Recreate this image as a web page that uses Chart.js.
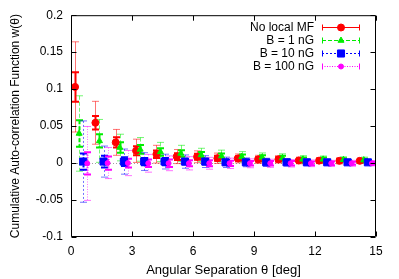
<!DOCTYPE html>
<html>
<head>
<meta charset="utf-8">
<script src="https://cdn.jsdelivr.net/npm/chart.js@4.4.1/dist/chart.umd.min.js"></script>
<style>
  html, body { margin: 0; padding: 0; background: #fff; }
  #wrap { width: 399px; height: 279px; }
</style>
</head>
<body>
<div id="wrap"><canvas id="acf" width="399" height="279"></canvas></div>
<script>
// ── data ─────────────────────────────────────────────────────────────────────
const LABELS = ['No local MF', 'B = 1 nG', 'B = 10 nG', 'B = 100 nG'];

const RED_X = [0.2, 1.2, 2.2, 3.2, 4.2, 5.2, 6.2, 7.2, 8.2, 9.2, 10.2, 11.2, 12.2, 13.2, 14.2];
const RED_W = [0.103, 0.0545, 0.028, 0.0166, 0.012, 0.0088, 0.0085, 0.0065, 0.0063, 0.005, 0.005, 0.0035, 0.0033, 0.003, 0.003];
const RED_ERR_IN  = [0.020, 0.009, 0.0068, 0.006, 0.005, 0.0045, 0.004, 0.0035, 0.003, 0.003, 0.003, 0.0025, 0.0025, 0.002, 0.002];
const RED_ERR_OUT = [0.061, 0.029, 0.0175, 0.0157, 0.012, 0.0095, 0.008, 0.007, 0.006, 0.0055, 0.005, 0.0045, 0.004, 0.004, 0.0035];

const GREEN_X = [0.4, 1.4, 2.4, 3.4, 4.4, 5.4, 6.4, 7.4, 8.4, 9.4, 10.4, 11.4, 12.4, 13.4, 14.4];
const GREEN_W = [0.040, 0.030, 0.021, 0.0185, 0.015, 0.013, 0.011, 0.0095, 0.0085, 0.0077, 0.007, 0.005, 0.005, 0.0045, 0.004];
const GREEN_ERR_IN  = [0.018, 0.009, 0.007, 0.006, 0.005, 0.0045, 0.004, 0.0035, 0.003, 0.003, 0.003, 0.0025, 0.0025, 0.002, 0.002];
const GREEN_ERR_OUT = [0.051, 0.029, 0.018, 0.016, 0.013, 0.011, 0.009, 0.008, 0.007, 0.006, 0.0055, 0.005, 0.0045, 0.004, 0.004];

const BLUE_X = [0.6, 1.6, 2.6, 3.6, 4.6, 5.6, 6.6, 7.6, 8.6, 9.6, 10.6, 11.6, 12.6, 13.6, 14.6];
const BLUE_W = [0.002, 0.002, 0.002, 0.002, 0.002, 0.002, 0.002, 0.001, 0.001, 0.001, 0.001, 0.001, 0.001, 0.001, 0.001];
const BLUE_ERR_IN  = [0.011, 0.008, 0.006, 0.005, 0.005, 0.004, 0.004, 0.0035, 0.003, 0.003, 0.003, 0.0025, 0.0025, 0.002, 0.002];
const BLUE_ERR_OUT = [0.055, 0.021, 0.017, 0.012, 0.010, 0.009, 0.008, 0.007, 0.006, 0.0055, 0.005, 0.0045, 0.004, 0.004, 0.0035];

const MAG_X = [0.8, 1.8, 2.8, 3.8, 4.8, 5.8, 6.8, 7.8, 8.8, 9.8, 10.8, 11.8, 12.8, 13.8, 14.8];
const MAG_W = [-0.0005, 0, 0, -0.0003, -0.0003, -0.0003, -0.0003, -0.0003, -0.0003, -0.0003, -0.0003, -0.0003, -0.0003, -0.0003, -0.0003];
const MAG_ERR_IN  = [0.015, 0.009, 0.006, 0.005, 0.005, 0.004, 0.004, 0.0035, 0.003, 0.003, 0.003, 0.0025, 0.0025, 0.002, 0.002];
const MAG_ERR_OUT = [0.050, 0.021, 0.017, 0.012, 0.010, 0.009, 0.008, 0.007, 0.006, 0.0055, 0.005, 0.0045, 0.004, 0.004, 0.0035];

const X_TICKS = [0, 3, 6, 9, 12, 15];
const Y_TICKS = [-0.1, -0.05, 0, 0.05, 0.1, 0.15, 0.2];

// ── helpers ──────────────────────────────────────────────────────────────────
const FONT = "'Liberation Sans', Arial, Helvetica, sans-serif";

function points(xs, ws, ein, eout) {
  return xs.map((x, i) => ({ x, y: ws[i], ei: ein[i], eo: eout[i] }));
}

function series(label, data, color, light, style, radius, dash) {
  return {
    label, data,
    pointStyle: style,
    pointRadius: radius,
    pointHoverRadius: radius,
    backgroundColor: color,
    borderColor: color,
    borderWidth: 1,
    showLine: false,
    barColor: color,
    barLight: light,
    barDash: dash,
  };
}

function drawBar(ctx, px, yTop, yBot, color, width, dash) {
  const cap = 3.5;
  ctx.strokeStyle = color;
  ctx.lineWidth = width;
  ctx.setLineDash(dash);
  ctx.beginPath();
  ctx.moveTo(px, yTop); ctx.lineTo(px, yBot);
  ctx.stroke();
  ctx.setLineDash([]);
  ctx.beginPath();
  ctx.moveTo(px - cap, yTop); ctx.lineTo(px + cap, yTop);
  ctx.moveTo(px - cap, yBot); ctx.lineTo(px + cap, yBot);
  ctx.stroke();
}

// ── plugin: zero line, error bars, frame with inward ticks, gnuplot key ─────
const gnuplotLook = {
  id: 'gnuplotLook',
  beforeDatasetsDraw(chart) {
    const { ctx, chartArea: a, scales: { x, y } } = chart;
    ctx.save();
    ctx.beginPath();
    ctx.rect(a.left, a.top, a.right - a.left, a.bottom - a.top);
    ctx.clip();

    // dotted zero axis
    const y0 = Math.round(y.getPixelForValue(0)) + 0.5;
    ctx.strokeStyle = '#a0a0a0';
    ctx.lineWidth = 1;
    ctx.setLineDash([1, 2]);
    ctx.beginPath();
    ctx.moveTo(a.left, y0); ctx.lineTo(a.right, y0);
    ctx.stroke();

    chart.data.datasets.forEach(ds => {
      ds.data.forEach(p => {
        const px = Math.round(x.getPixelForValue(p.x)) + 0.5;
        drawBar(ctx, px, y.getPixelForValue(p.y + p.eo), y.getPixelForValue(p.y - p.eo), ds.barLight, 1, ds.barDash);
        drawBar(ctx, px, y.getPixelForValue(p.y + p.ei), y.getPixelForValue(p.y - p.ei), ds.barColor, 2, ds.barDash);
      });
    });
    ctx.restore();
  },
  afterDraw(chart) {
    const { ctx, chartArea: a, scales: { x, y } } = chart;
    ctx.save();
    ctx.strokeStyle = '#000';
    ctx.lineWidth = 1;
    ctx.setLineDash([]);
    const L = a.left + 0.5, R = a.right - 0.5, T = a.top + 0.5, B = a.bottom - 0.5;
    ctx.beginPath();
    ctx.rect(L, T, R - L, B - T);
    X_TICKS.forEach(v => {
      const px = Math.round(x.getPixelForValue(v)) + 0.5;
      ctx.moveTo(px, B); ctx.lineTo(px, B - 5);
      ctx.moveTo(px, T); ctx.lineTo(px, T + 5);
    });
    Y_TICKS.forEach(v => {
      const py = Math.round(y.getPixelForValue(v)) + 0.5;
      ctx.moveTo(L, py); ctx.lineTo(L + 5, py);
      ctx.moveTo(R, py); ctx.lineTo(R - 5, py);
    });
    ctx.stroke();

    // key, top right
    const lineEnd = a.right - 16, lineStart = lineEnd - 38, textRight = lineStart - 8;
    ctx.font = '12px ' + FONT;
    ctx.textAlign = 'right';
    ctx.textBaseline = 'middle';
    chart.data.datasets.forEach((ds, i) => {
      const ty = Math.round(a.top + 12 + 13 * i) + 0.5;
      ctx.fillStyle = '#000';
      ctx.fillText(ds.label, textRight, ty);
      ctx.strokeStyle = ds.barColor;
      ctx.lineWidth = 1;
      ctx.setLineDash(ds.barDash);
      ctx.beginPath();
      ctx.moveTo(lineStart, ty); ctx.lineTo(lineEnd, ty);
      ctx.stroke();
      ctx.setLineDash([]);
      ctx.beginPath();
      ctx.moveTo(lineStart + 0.5, ty - 3); ctx.lineTo(lineStart + 0.5, ty + 3);
      ctx.moveTo(lineEnd - 0.5, ty - 3); ctx.lineTo(lineEnd - 0.5, ty + 3);
      ctx.stroke();
      ctx.fillStyle = ds.barColor;
      Chart.helpers.drawPoint(ctx, { pointStyle: ds.pointStyle, radius: ds.pointRadius, borderWidth: 1, rotation: 0 },
        (lineStart + lineEnd) / 2, ty);
    });
    ctx.restore();
  },
};

// ── chart ────────────────────────────────────────────────────────────────────
const datasets = [
  series(LABELS[0], points(RED_X, RED_W, RED_ERR_IN, RED_ERR_OUT), '#ff0000', 'rgba(255,0,0,0.55)', 'circle', 3.5, []),
  series(LABELS[1], points(GREEN_X, GREEN_W, GREEN_ERR_IN, GREEN_ERR_OUT), '#00ee00', 'rgba(0,238,0,0.55)', 'triangle', 3.5, [4, 2]),
  series(LABELS[2], points(BLUE_X, BLUE_W, BLUE_ERR_IN, BLUE_ERR_OUT), '#0000ff', 'rgba(0,0,255,0.55)', 'rect', 5, [2, 2]),
  series(LABELS[3], points(MAG_X, MAG_W, MAG_ERR_IN, MAG_ERR_OUT), '#ff00ff', 'rgba(255,0,255,0.55)', 'circle', 2.5, [1, 1.5]),
];
datasets.forEach((d, i) => { d.order = datasets.length - i; });

new Chart(document.getElementById('acf'), {
  type: 'scatter',
  data: { datasets },
  options: {
    responsive: false,
    devicePixelRatio: 1,
    animation: false,
    layout: { padding: { top: 15, right: 23, left: 0, bottom: 0 } },
    plugins: { legend: { display: false }, tooltip: { enabled: false } },
    scales: {
      x: {
        type: 'linear',
        min: 0, max: 15,
        afterBuildTicks: s => { s.ticks = X_TICKS.map(v => ({ value: v })); },
        afterFit: s => { s.height = 42; },
        grid: { display: false, drawTicks: false },
        border: { display: false },
        ticks: { color: '#000', padding: 7, maxRotation: 0, font: { family: FONT, size: 12 } },
        title: {
          display: true, text: 'Angular Separation θ [deg]', color: '#000',
          padding: { top: 0, bottom: 1 }, font: { family: FONT, size: 13 },
        },
      },
      y: {
        type: 'linear',
        min: -0.1, max: 0.2,
        afterBuildTicks: s => { s.ticks = Y_TICKS.map(v => ({ value: v })); },
        afterFit: s => { s.width = 71; },
        grid: { display: false, drawTicks: false },
        border: { display: false },
        ticks: {
          color: '#000', padding: 8, font: { family: FONT, size: 12 },
          callback: v => String(parseFloat(v.toFixed(3))),
        },
        title: {
          display: true, text: 'Cumulative Auto-correlation Function w(θ)', color: '#000',
          padding: { top: 8, bottom: 0 }, font: { family: FONT, size: 12 },
        },
      },
    },
  },
  plugins: [gnuplotLook],
});
</script>
</body>
</html>
